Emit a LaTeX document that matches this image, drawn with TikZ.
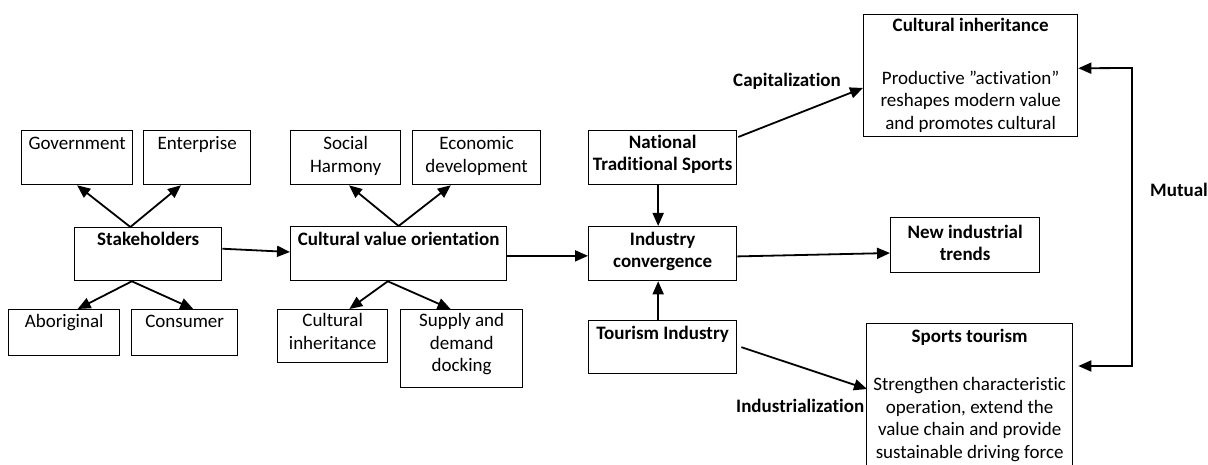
\documentclass[tikz,border=0pt]{standalone}
\usepackage{fontspec}
\setmainfont{Carlito}[Ligatures={NoCommon,NoRare,NoContextual}]
\usetikzlibrary{arrows.meta,calc}
\begin{document}
\begin{tikzpicture}[x=1pt,y=-1pt,
  box/.style={draw,line width=1.3pt,inner sep=0,anchor=north west},
  txt/.style={anchor=north,inner sep=0,align=center,font=\fontsize{19}{22.5}\selectfont},
  btxt/.style={txt,font=\bfseries\fontsize{19}{22.5}\selectfont},
  lbl/.style={anchor=base west,inner sep=0,font=\bfseries\fontsize{19}{22.5}\selectfont},
  arr/.style={line width=1.8pt,-{Triangle[length=13pt,width=11pt]}},
  darr/.style={line width=1.8pt,{Triangle[length=13pt,width=11pt]}-{Triangle[length=13pt,width=11pt]}}]
\useasboundingbox (0,0) rectangle (1208,465);
\clip (0,0) rectangle (1208,465);
\fill[white] (0,0) rectangle (1208,465);
% boxes
\node[box,minimum width=111pt,minimum height=54pt] (gov) at (21,130) {};
\node[box,minimum width=107pt,minimum height=54pt] (ent) at (143,130) {};
\node[box,minimum width=147pt,minimum height=53pt] (stake) at (74,227) {};
\node[box,minimum width=111pt,minimum height=46pt] (abo) at (8,309) {};
\node[box,minimum width=106pt,minimum height=46pt] (con) at (131,309) {};
\node[box,minimum width=110pt,minimum height=54pt] (soc) at (290,130) {};
\node[box,minimum width=128pt,minimum height=54pt] (eco) at (412,130) {};
\node[box,minimum width=216pt,minimum height=54pt] (cvo) at (290,226) {};
\node[box,minimum width=110pt,minimum height=53pt] (cih) at (277,309) {};
\node[box,minimum width=122pt,minimum height=78pt] (sup) at (400,309) {};
\node[box,minimum width=148pt,minimum height=54pt] (nts) at (588,130) {};
\node[box,minimum width=148pt,minimum height=54pt] (ic) at (588,226) {};
\node[box,minimum width=148pt,minimum height=53pt] (ti) at (588,320) {};
\node[box,minimum width=214pt,minimum height=122pt] (ci) at (863,14) {};
\node[box,minimum width=149pt,minimum height=55pt] (nit) at (890,217) {};
\node[box,minimum width=206pt,minimum height=167pt] (st) at (866,323) {};
% texts
\node[txt] (tgov) at ($(gov.north)+(0,6.5)$) {Government};
\node[txt] (tent) at ($(ent.north)+(0,6.5)$) {Enterprise};
\node[btxt] (tstake) at ($(stake.north)+(0,5)$) {Stakeholders};
\node[txt] (tabo) at ($(abo.north)+(0,5.5)$) {Aboriginal};
\node[txt] (tcon) at ($(con.north)+(0,5.5)$) {Consumer};
\node[txt] (tsoc) at ($(soc.north)+(0,6.5)$) {Social\\Harmony};
\node[txt] (teco) at ($(eco.north)+(0,6.5)$) {Economic\\development};
\node[btxt] (tcvo) at ($(cvo.north)+(0,5.5)$) {Cultural value orientation};
\node[txt] (tcih) at ($(cih.north)+(0,4.5)$) {Cultural\\inheritance};
\node[txt] (tsup) at ($(sup.north)+(0,4.5)$) {Supply and\\demand\\docking};
\node[btxt] (tnts) at ($(nts.north)+(0,4.5)$) {National\\Traditional Sports};
\node[btxt] (tic) at ($(ic.north)+(0,5.5)$) {Industry\\convergence};
\node[btxt] (tti) at ($(ti.north)+(0,5.5)$) {Tourism Industry};
\node[btxt] (tnit) at ($(nit.north)+(0,7.5)$) {New industrial\\trends};
\node[btxt] (tci) at ($(ci.north)+(0,3.5)$) {Cultural inheritance};
\node[txt] (bci) at ($(ci.north)+(0,56.5)$) {Productive \char34 activation\char34\\reshapes modern value\\and promotes cultural};
\node[btxt] (tst) at ($(st.north)+(0,5.5)$) {Sports tourism};
\node[txt] (bst) at ($(st.north)+(0,54.5)$) {Strengthen characteristic\\operation, extend the\\value chain and provide\\sustainable driving force};
% labels
\node[lbl] (lcap) at (733,87) {Capitalization};
\node[lbl] (lind) at (736,412) {Industrialization};
\node[lbl] (lmut) at (1150,197) {Mutual};
% connectors
\draw[arr] ($(stake.north west)!0.38!(stake.north east)$) -- (gov.south);
\draw[arr] ($(stake.north west)!0.38!(stake.north east)$) -- ($(ent.south west)!0.35!(ent.south east)$);
\draw[arr] ($(stake.south west)!0.39!(stake.south east)$) -- ($(abo.north west)!0.62!(abo.north east)$);
\draw[arr] ($(stake.south west)!0.39!(stake.south east)$) -- ($(con.north west)!0.58!(con.north east)$);
\draw[arr] ($(stake.north east)!0.4!(stake.south east)$) -- ($(cvo.north west)!0.47!(cvo.south west)$);
\draw[arr] ($(cvo.north west)!0.5!(cvo.north east)$) -- ($(soc.south west)!0.53!(soc.south east)$);
\draw[arr] ($(cvo.north west)!0.5!(cvo.north east)$) -- ($(eco.south west)!0.3!(eco.south east)$);
\draw[arr] ($(cvo.south west)!0.45!(cvo.south east)$) -- ($(cih.north west)!0.65!(cih.north east)$);
\draw[arr] ($(cvo.south west)!0.45!(cvo.south east)$) -- ($(sup.north west)!0.41!(sup.north east)$);
\draw[arr] ($(cvo.north east)!0.54!(cvo.south east)$) -- ($(ic.north west)!0.54!(ic.south west)$);
\draw[arr] ($(nts.south west)!0.47!(nts.south east)$) -- ($(ic.north west)!0.47!(ic.north east)$);
\draw[arr] ($(ti.north west)!0.47!(ti.north east)$) -- ($(ic.south west)!0.47!(ic.south east)$);
\draw[arr] ($(ic.north east)!0.55!(ic.south east)$) -- ($(nit.north west)!0.64!(nit.south west)$);
\draw[arr] ($(nts.north east)+(1,7)$) -- ($(ci.north west)!0.6!(ci.south west)$);
\draw[arr] ($(ti.east)+(4,0)$) -- ($(st.north west)+(1,66)$);
\coordinate (cir) at ($(ci.north east)!0.44!(ci.south east)$);
\coordinate (str) at ($(st.north east)+(5,43)$);
\coordinate (m1) at (1132,68);
\coordinate (m2) at (1132,366);
\draw[darr] (cir) -- (m1) -- (m2) -- (str);
\end{tikzpicture}
\end{document}
